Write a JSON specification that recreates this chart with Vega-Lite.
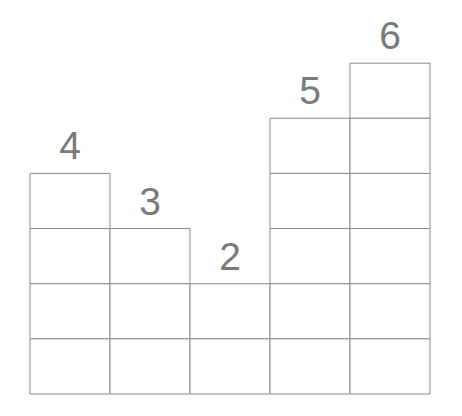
{
  "$schema": "https://vega.github.io/schema/vega-lite/v6.json",
  "autosize": "none",
  "width": 400,
  "height": 386,
  "padding": {"left": 30, "top": 8, "right": 32, "bottom": 22},
  "background": "white",
  "config": {"view": {"stroke": null}},
  "datasets": {
    "cells": [
      {"col": "A", "unit": 1}, {"col": "A", "unit": 2}, {"col": "A", "unit": 3}, {"col": "A", "unit": 4},
      {"col": "B", "unit": 1}, {"col": "B", "unit": 2}, {"col": "B", "unit": 3},
      {"col": "C", "unit": 1}, {"col": "C", "unit": 2},
      {"col": "D", "unit": 1}, {"col": "D", "unit": 2}, {"col": "D", "unit": 3}, {"col": "D", "unit": 4}, {"col": "D", "unit": 5},
      {"col": "E", "unit": 1}, {"col": "E", "unit": 2}, {"col": "E", "unit": 3}, {"col": "E", "unit": 4}, {"col": "E", "unit": 5}, {"col": "E", "unit": 6}
    ],
    "totals": [
      {"col": "A", "value": 4},
      {"col": "B", "value": 3},
      {"col": "C", "value": 2},
      {"col": "D", "value": 5},
      {"col": "E", "value": 6}
    ]
  },
  "layer": [
    {
      "data": {"name": "cells"},
      "mark": {"type": "bar", "fill": "white", "stroke": "#8a8a8a", "strokeWidth": 1},
      "encoding": {
        "x": {"field": "col", "type": "nominal", "scale": {"paddingInner": 0, "paddingOuter": 0}, "axis": null},
        "y": {"aggregate": "count", "type": "quantitative", "stack": "zero", "scale": {"domain": [0, 7]}, "axis": null},
        "detail": {"field": "unit", "type": "ordinal"}
      }
    },
    {
      "data": {"name": "totals"},
      "mark": {"type": "text", "font": "Liberation Sans", "fontSize": 39, "color": "#7a7a7a", "baseline": "alphabetic", "dy": -14},
      "encoding": {
        "x": {"field": "col", "type": "nominal"},
        "y": {"field": "value", "type": "quantitative"},
        "text": {"field": "value", "type": "quantitative"}
      }
    }
  ]
}
